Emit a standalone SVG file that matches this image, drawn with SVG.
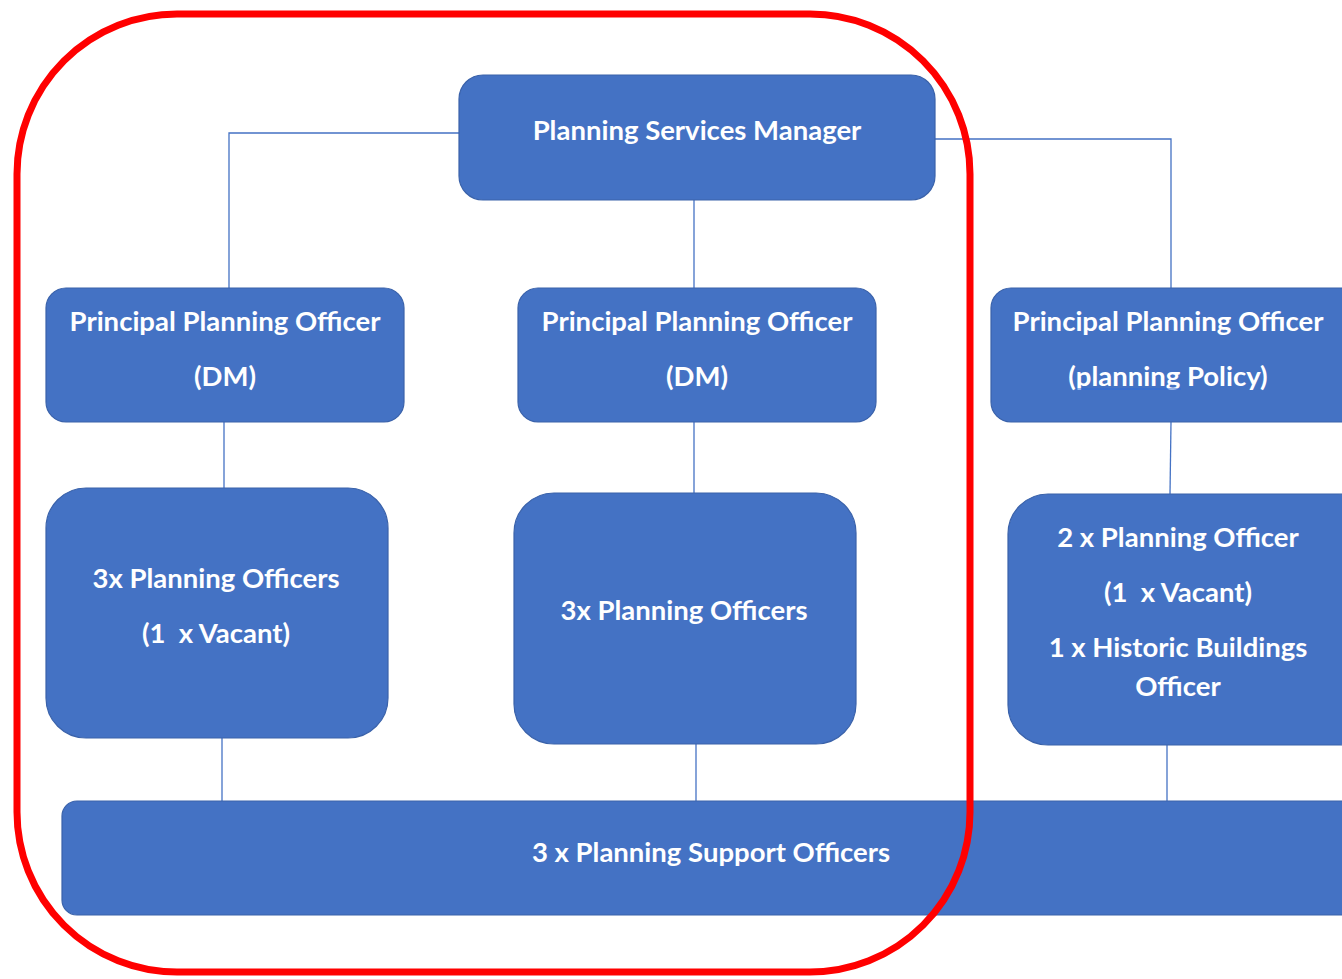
<svg xmlns="http://www.w3.org/2000/svg" width="1342" height="979" viewBox="0 0 1342 979">
  <style>
    .node { fill: #4472C4; stroke: #3A62AA; stroke-width: 1.2; }
    .lbl { font-family: Lato, "Liberation Sans", sans-serif; font-weight: bold; font-size: 27.5px; fill: #FFFFFF; text-anchor: middle; dominant-baseline: central; white-space: pre; }
    .link { fill: none; stroke: #4472C4; stroke-width: 1.3; }
  </style>
  <rect x="0" y="0" width="1342" height="979" fill="#FFFFFF"/>

  <!-- reporting lines -->
  <g id="connectors">
    <polyline class="link" points="459,133 229,133 229,288"/>
    <line class="link" x1="694" y1="200" x2="694" y2="288"/>
    <polyline class="link" points="935,139 1171,139 1171,288"/>
    <line class="link" x1="224" y1="422" x2="224" y2="488"/>
    <line class="link" x1="694" y1="422" x2="694" y2="493"/>
    <line class="link" x1="1171" y1="422" x2="1170" y2="494"/>
    <line class="link" x1="222" y1="738" x2="222" y2="801"/>
    <line class="link" x1="696" y1="744" x2="696" y2="801"/>
    <line class="link" x1="1167" y1="745" x2="1167" y2="801"/>
  </g>

  <g id="manager">
    <rect class="node" x="459" y="75" width="476" height="125" rx="24"/>
    <text class="lbl" x="697" y="129">Planning Services Manager</text>
  </g>

  <g id="ppo-dm-1">
    <rect class="node" x="46" y="288" width="358" height="134" rx="20"/>
    <text class="lbl" x="225" y="320">Principal Planning Officer</text>
    <text class="lbl" x="225" y="375">(DM)</text>
  </g>

  <g id="ppo-dm-2">
    <rect class="node" x="518" y="288" width="358" height="134" rx="20"/>
    <text class="lbl" x="697" y="320">Principal Planning Officer</text>
    <text class="lbl" x="697" y="375">(DM)</text>
  </g>

  <g id="ppo-policy">
    <rect class="node" x="991" y="288" width="380" height="134" rx="20"/>
    <text class="lbl" x="1168" y="320">Principal Planning Officer</text>
    <text class="lbl" x="1168" y="375">(planning Policy)</text>
    <line x1="1076" y1="389" x2="1181" y2="389" stroke="#2E6BD8" stroke-width="1.2"/>
  </g>

  <g id="officers-1">
    <rect class="node" x="46" y="488" width="342" height="250" rx="40"/>
    <text class="lbl" x="216" y="577">3x Planning Officers</text>
    <text class="lbl" x="216" y="632">(1  x Vacant)</text>
  </g>

  <g id="officers-2">
    <rect class="node" x="514" y="493" width="342" height="251" rx="40"/>
    <text class="lbl" x="684" y="609">3x Planning Officers</text>
  </g>

  <g id="officers-policy">
    <rect class="node" x="1008" y="494" width="370" height="251" rx="40"/>
    <text class="lbl" x="1178" y="536">2 x Planning Officer</text>
    <text class="lbl" x="1178" y="591">(1  x Vacant)</text>
    <text class="lbl" x="1178" y="646">1 x Historic Buildings</text>
    <text class="lbl" x="1178" y="685">Officer</text>
  </g>

  <g id="support">
    <rect class="node" x="62" y="801" width="1310" height="114" rx="15"/>
    <text class="lbl" x="711" y="851">3 x Planning Support Officers</text>
  </g>

  <!-- highlight outline -->
  <rect id="highlight" x="17" y="14" width="953" height="958" rx="160" fill="none" stroke="#FF0000" stroke-width="7"/>
</svg>
